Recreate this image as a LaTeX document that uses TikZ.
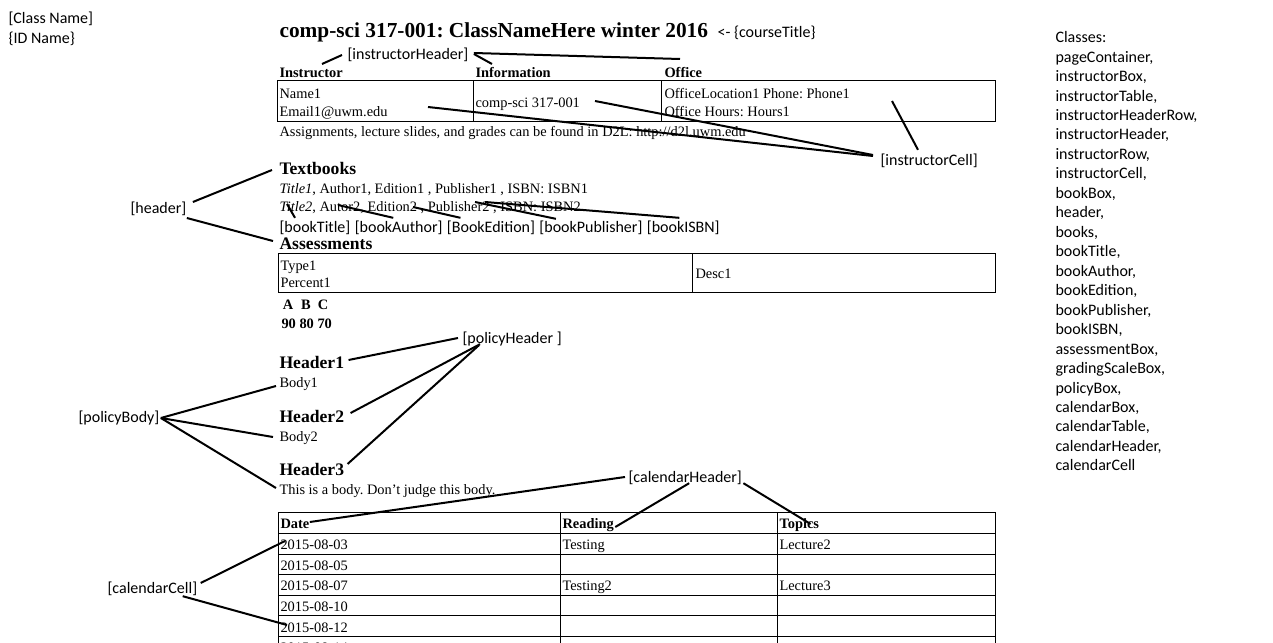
\documentclass[tikz,border=0pt]{standalone}
\usepackage{fontspec}
\setmainfont{Liberation Serif}
\newfontfamily\notefont{Carlito}
\usetikzlibrary{positioning}
\frenchspacing
\begin{document}
\begin{tikzpicture}[x=0.75pt, y=-0.75pt, thick,
    note/.style = {anchor=west, inner sep=0, font=\notefont\fontsize{12}{14.6}\selectfont, text height=2.25ex, text depth=.25ex},
    list/.style = {anchor=north west, inner sep=0, align=left, font=\notefont\fontsize{12}{14.6}\selectfont},
    txt/.style = {anchor=west, inner sep=0, font=\fontsize{10.8}{12}\selectfont, text height=2.25ex, text depth=.25ex},
    bold/.style = {txt, font=\fontsize{10.8}{12}\selectfont\bfseries},
    head/.style = {txt, font=\fontsize{13.2}{15}\selectfont\bfseries},
    link/.style = {line width=1.5pt},
    cell/.style = {line width=0.75pt}]
    \useasboundingbox (0,0) rectangle (1273,642);
    \clip (0,0) rectangle (1273,642);

    \node [note] (className) at (8,17) {[Class Name]};
    \node [note] (idName) at (8,37) {\{ID Name\}};

    % title and instructor box
    \node [txt, font=\fontsize{16}{18}\selectfont\bfseries] (title) at (279,31) {comp-sci 317-001: ClassNameHere winter 2016};
    \node [note] (courseTitle) at (717,31) {<- \{courseTitle\}};
    \node [note] (instrHeader) at (347,53) {[instructorHeader]};
    \node [bold] (instructor) at (279,71) {Instructor};
    \node [bold] (information) at (475,71) {Information};
    \node [bold] (office) at (664,71) {Office};
    \draw [cell] (277,81) rectangle (995,121) (473,81) -- (473,121) (661,81) -- (661,121);
    \node [txt] (name) at (279,92) {Name1};
    \node [txt] (email) at (279,110) {Email1@uwm.edu};
    \node [txt] (course) at (475,101) {comp-sci 317-001};
    \node [txt] (location) at (664,92) {OfficeLocation1 Phone: Phone1};
    \node [txt] (hours) at (664,110) {Office Hours: Hours1};
    \node [txt] (d2l) at (279,130) {Assignments, lecture slides, and grades can be found in D2L: http://d2l.uwm.edu};
    \node [note] (instrCell) at (880,159) {[instructorCell]};

    \coordinate (atInstructor) at (322,64);
    \coordinate (atInformation) at (492,64);
    \coordinate (atOffice) at (680,59);
    \coordinate (atEmail) at (428,107);
    \coordinate (atCourse) at (595,101);
    \coordinate (atOfficeCell) at (892,101);
    \draw [link] (atInstructor) -- ([shift={(-5,2)}]instrHeader.west);
    \draw [link] ([shift={(5,1)}]instrHeader.east) -- (atInformation);
    \draw [link] ([shift={(5,0)}]instrHeader.east) -- (atOffice);
    \draw [link] (atEmail) -- ([shift={(-7,-3)}]instrCell.west);
    \draw [link] (atCourse) -- ([shift={(-7,-4)}]instrCell.west);
    \draw [link] (atOfficeCell) -- ([shift={(38,-1)}]instrCell.north west);

    % books
    \node [head] (textbooks) at (279,168) {Textbooks};
    \node [txt] (book1) at (279,187) {\textit{Title1}, Author1, Edition1 , Publisher1 , ISBN: ISBN1};
    \node [txt] (book2) at (279,205) {\textit{Title2}, Autor2, Edition2 , Publisher2 , ISBN: ISBN2};
    \node [note] (bookTitle) at (279,226) {[bookTitle]};
    \node [note, right=2.5pt of bookTitle] (bookAuthor) {[bookAuthor]};
    \node [note, right=2.5pt of bookAuthor] (bookEdition) {[BookEdition]};
    \node [note, right=2.5pt of bookEdition] (bookPublisher) {[bookPublisher]};
    \node [note, right=2.5pt of bookPublisher] (bookISBN) {[bookISBN]};
    \node [note] (header) at (130,207) {[header]};
    \node [head] (assessments) at (279,243) {Assessments};

    \coordinate (atTextbooks) at (272,170);
    \coordinate (atAssessments) at (273,241);
    \coordinate (atTitle2) at (287,204);
    \coordinate (atAutor2) at (338,205);
    \coordinate (atEdition2) at (413,207);
    \coordinate (atPublisher2) at (475,202);
    \coordinate (atIsbn2) at (485,202);
    \draw [link] ([shift={(6,-5)}]header.east) -- (atTextbooks);
    \draw [link] ([shift={(0,11)}]header.east) -- (atAssessments);
    \draw [link] (atTitle2) -- ([shift={(16,0)}]bookTitle.north west);
    \draw [link] (atAutor2) -- ([shift={(39,0)}]bookAuthor.north west);
    \draw [link] (atEdition2) -- ([shift={(14,0)}]bookEdition.north west);
    \draw [link] (atPublisher2) -- ([shift={(17,1)}]bookPublisher.north west);
    \draw [link] (atIsbn2) -- ([shift={(33,0)}]bookISBN.north west);

    % assessments and grading scale
    \draw [cell] (278,253) rectangle (995,292) (692,253) -- (692,292);
    \node [txt] (type) at (280,264) {Type1};
    \node [txt] (percent) at (280,281) {Percent1};
    \node [txt] (desc) at (695,272) {Desc1};
    \node [bold, anchor=center] (gradeA) at (288,303) {A};
    \node [bold, anchor=center] (gradeB) at (306,303) {B};
    \node [bold, anchor=center] (gradeC) at (323,303) {C};
    \node [bold] (scale) at (281,322) {90 80 70};

    % policies
    \node [note] (policyHeader) at (462,337) {[policyHeader ]};
    \node [head] (header1) at (279,362) {Header1};
    \node [txt] (body1) at (279,381) {Body1};
    \node [head] (header2) at (279,416) {Header2};
    \node [txt] (body2) at (279,435) {Body2};
    \node [head] (header3) at (279,469) {Header3};
    \node [txt] (body3) at (279,488) {This is a body. Don't judge this body.};
    \node [note] (policyBody) at (78,416) {[policyBody]};
    \draw [link] ([shift={(4,-2)}]header1.east) -- ([shift={(-4,1)}]policyHeader.west);
    \draw [link] ([shift={(6,-3)}]header2.east) -- ([shift={(18,-1)}]policyHeader.south west);
    \draw [link] ([shift={(3,-5)}]header3.east) -- ([shift={(17,0)}]policyHeader.south west);
    \draw [link] ([shift={(1,2)}]policyBody.east) -- ([shift={(-3,5)}]body1.west);
    \draw [link] ([shift={(1,2)}]policyBody.east) -- ([shift={(-6,2)}]body2.west);
    \draw [link] ([shift={(1,2)}]policyBody.east) -- ([shift={(-3,0)}]body3.west);

    % calendar
    \node [note] (calHeader) at (628,476) {[calendarHeader]};
    \draw [cell] (278,512) rectangle (995,660) (560,512) -- (560,660) (777,512) -- (777,660)
        (278,533) -- (995,533) (278,554) -- (995,554) (278,574) -- (995,574)
        (278,595) -- (995,595) (278,615) -- (995,615) (278,636) -- (995,636) (278,656) -- (995,656);
    \node [bold] (date) at (280,522) {Date};
    \node [bold] (reading) at (562,522) {Reading};
    \node [bold] (topics) at (779,522) {Topics};
    \node [txt] (day1) at (280,543) {2015-08-03};
    \node [txt] (day2) at (280,564) {2015-08-05};
    \node [txt] (day3) at (280,584) {2015-08-07};
    \node [txt] (day4) at (280,605) {2015-08-10};
    \node [txt] (day5) at (280,626) {2015-08-12};
    \node [txt] (day6) at (280,646) {2015-08-14};
    \node [txt] (reading1) at (562,543) {Testing};
    \node [txt] (topic1) at (779,543) {Lecture2};
    \node [txt] (reading3) at (562,584) {Testing2};
    \node [txt] (topic3) at (779,584) {Lecture3};
    \node [note] (calCell) at (107,587) {[calendarCell]};
    \draw [link] ([shift={(-3,1)}]calHeader.west) -- (date.east);
    \draw [link] ([shift={(4,-1)}]calHeader.south) -- ([shift={(1,5)}]reading.east);
    \draw [link] ([shift={(1,-1)}]calHeader.south east) -- ([shift={(-9,2)}]topics.east);
    \draw [link] ([shift={(3,-4)}]calCell.east) -- ([shift={(5,-2)}]day1.west);
    \draw [link] ([shift={(-15,1)}]calCell.south east) -- ([shift={(7,-1)}]day5.west);

    % class list
    \node [list] (classes) at (1055,31) {Classes:\\pageContainer,\\instructorBox,\\instructorTable,\\instructorHeaderRow,\\instructorHeader,\\instructorRow,\\instructorCell,\\bookBox,\\header,\\books,\\bookTitle,\\bookAuthor,\\bookEdition,\\bookPublisher,\\bookISBN,\\assessmentBox,\\gradingScaleBox,\\policyBox,\\calendarBox,\\calendarTable,\\calendarHeader,\\calendarCell};
\end{tikzpicture}
\end{document}
